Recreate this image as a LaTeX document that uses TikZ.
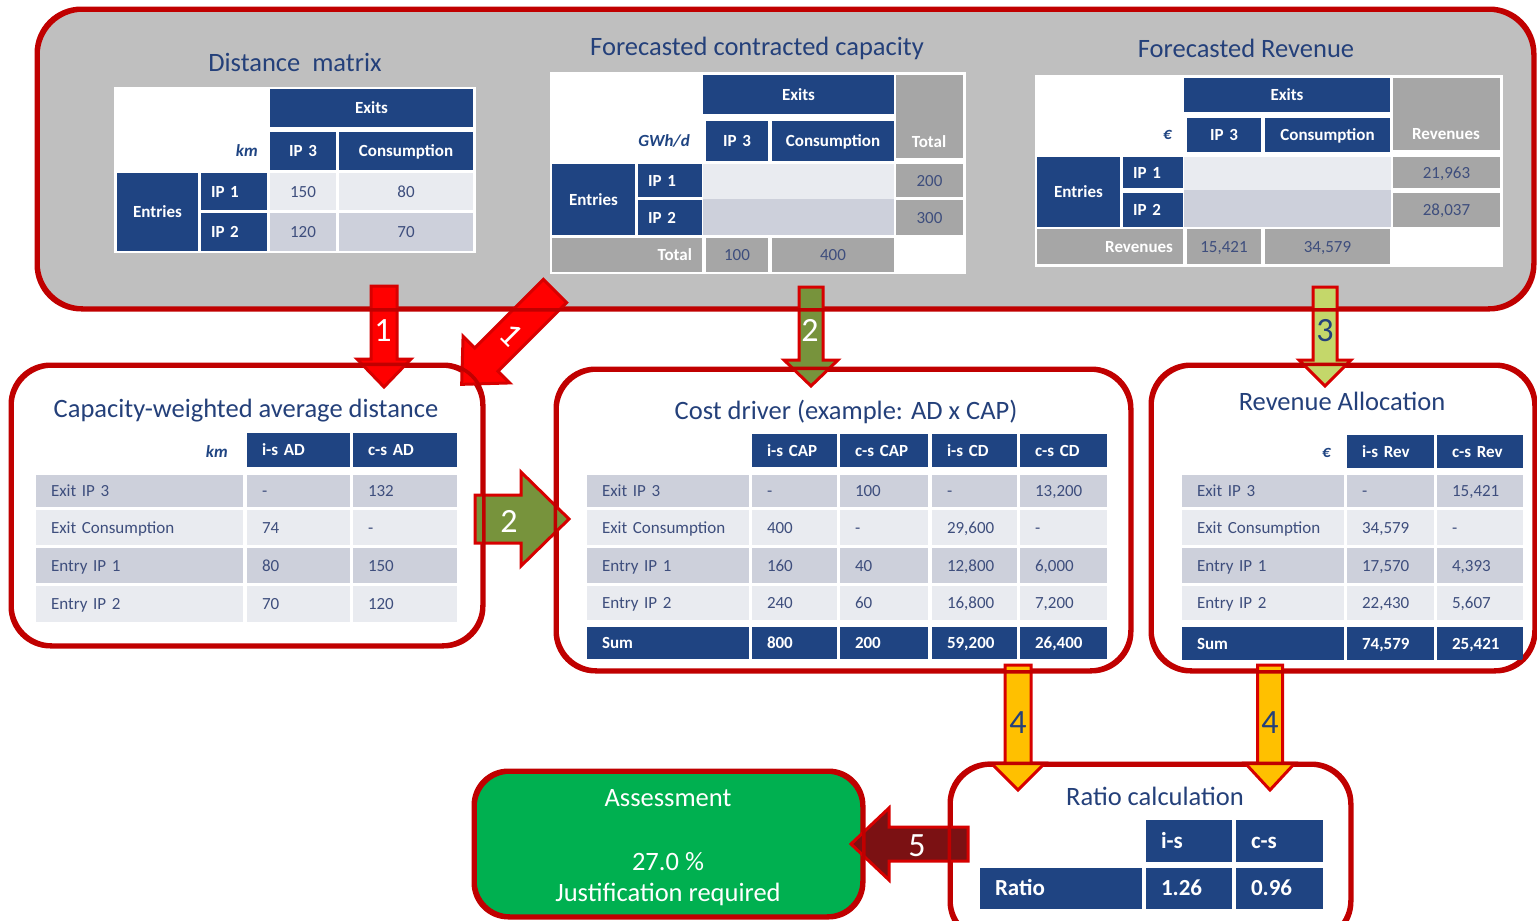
\documentclass[tikz,border=0pt]{standalone}
\usepackage{fontspec}
\setmainfont{Carlito}
\usetikzlibrary{calc}
\definecolor{hdrblue}{RGB}{31,68,130}
\definecolor{titleblue}{RGB}{36,64,122}
\definecolor{valtxt}{RGB}{62,78,125}
\definecolor{rowlight}{RGB}{233,235,240}
\definecolor{rowdark}{RGB}{205,208,219}
\definecolor{cellgrey}{RGB}{166,166,166}
\definecolor{bggrey}{RGB}{191,191,191}
\definecolor{boxred}{RGB}{192,0,0}
\definecolor{arrred}{RGB}{255,0,0}
\definecolor{arredge}{RGB}{215,0,0}
\definecolor{olivegreen}{RGB}{119,147,60}
\definecolor{lightgreen}{RGB}{196,215,106}
\definecolor{amber}{RGB}{255,192,0}
\definecolor{darkred}{RGB}{123,17,19}
\definecolor{assessgreen}{RGB}{0,176,80}
\tikzset{
 panel/.style={draw=boxred, line width=3.5pt, fill=white, rounded corners=40pt, inner sep=0pt},
 title/.style={font=\fontsize{26.5}{30}\selectfont, text=titleblue, inner sep=0pt, text height=17pt, text depth=0pt},
 cellbase/.style={inner ysep=0pt, text height=11pt, text depth=0pt},
 hdr/.style={cellbase, fill=hdrblue, text=white, font=\fontsize{17}{20}\selectfont\bfseries},
 hdrL/.style={cellbase, text height=14.6pt, fill=hdrblue, text=white, font=\fontsize{23}{26}\selectfont\bfseries},
 val/.style={cellbase, text=valtxt, font=\fontsize{17}{20}\selectfont},
 lt/.style={val, fill=rowlight},
 dk/.style={val, fill=rowdark},
 gry/.style={val, fill=cellgrey},
 gryh/.style={hdr, fill=cellgrey},
 blank/.style={cellbase, fill=white},
 unitlbl/.style={font=\fontsize{17}{20}\selectfont\bfseries\itshape, text=hdrblue, inner sep=0pt, text height=11pt, text depth=0pt},
 hdrtxt/.style={font=\fontsize{17}{20}\selectfont\bfseries, text=white, inner sep=0pt, text height=11pt, text depth=0pt},
 blk/.style={line width=3pt, draw=arredge, line join=miter},
 num/.style={font=\fontsize{34}{36}\selectfont, inner sep=0pt, text height=22pt, text depth=0pt},
 asstxt/.style={font=\fontsize{26.5}{30}\selectfont, text=white, inner sep=0pt, text height=17pt, text depth=0pt},
 border/.style={draw=boxred, line width=3.5pt, rounded corners=40pt},
}
\newcommand{\cellpad}{14}
% name, x1, y1, x2, y2, style, align, text
\newcommand{\tc}[8]{%
 \pgfmathsetmacro{\tcW}{#4-#2}%
 \pgfmathsetmacro{\tcH}{#5-#3}%
 \pgfmathsetmacro{\tcT}{#4-#2-2*\cellpad}%
 \node[#6, minimum width=\tcW pt, minimum height=\tcH pt, text width=\tcT pt, align=#7, inner xsep=\cellpad pt] (#1) at ({(#2+#4)/2},{(#3+#5)/2}) {#8};}
% style, start coordinate, angle, length, half shaft, half head, head length
\newcommand{\blockarrow}[7]{%
 \begin{scope}[shift={(#2)}, rotate=#3]
 \draw[#1] (0,#5) -- ({#4-#7},#5) -- ({#4-#7},#6) -- (#4,0) -- ({#4-#7},-#6) -- ({#4-#7},-#5) -- (0,-#5) -- cycle;
 \end{scope}}
\begin{document}
\begin{tikzpicture}[x=1pt,y=-1pt]
\clip (0,0) rectangle (1537,921);
\fill[white] (0,0) rectangle (1537,921);

% ===== top panel =====
\node[panel, fill=bggrey, rounded corners=45pt, minimum width=1495pt, minimum height=298pt] (top) at (785.5,159) {};
\node[title] (tDM) at (295,63) {Distance\ \ matrix};
\node[title] (tFCC) at (757,47) {Forecasted contracted capacity};
\node[title] (tFR) at (1246,49) {Forecasted Revenue};

% Distance matrix
\renewcommand{\cellpad}{10}
\tc{dmBg}{114}{87}{476}{253}{blank}{center}{}
\tc{dmExits}{270}{89}{473}{127}{hdr}{center}{Exits}
\tc{dmIPt}{270}{132}{336}{170}{hdr}{center}{IP 3}
\tc{dmCons}{339}{132}{473}{170}{hdr}{center}{Consumption}
\node[unitlbl, anchor=east] (dmKm) at (258,151) {km};
\tc{dmEntries}{117}{173}{198}{251}{hdr}{center}{Entries}
\tc{dmIPa}{201}{173}{267}{210}{hdr}{left}{IP 1}
\tc{dmIPb}{201}{213}{267}{251}{hdr}{left}{IP 2}
\tc{dmA}{270}{173}{336}{210}{lt}{center}{150}
\tc{dmB}{339}{173}{473}{210}{lt}{center}{80}
\tc{dmC}{270}{213}{336}{251}{dk}{center}{120}
\tc{dmD}{339}{213}{473}{251}{dk}{center}{70}

% Forecasted contracted capacity
\tc{fcBg}{550}{72}{966}{274}{blank}{center}{}
\tc{fcExits}{703}{75}{894}{114}{hdr}{center}{Exits}
\tc{fcTotH}{896}{75}{963}{158}{gryh}{center}{}
\node[hdrtxt] (fcTotHt) at (929,142) {Total};
\tc{fcIPt}{706}{121}{768}{161}{hdr}{center}{IP 3}
\tc{fcCons}{772}{121}{894}{161}{hdr}{center}{Consumption}
\node[unitlbl, anchor=east] (fcUnit) at (690,141) {GWh/d};
\tc{fcEntries}{552}{164}{635}{235}{hdr}{center}{Entries}
\tc{fcIPa}{638}{164}{702}{197}{hdr}{left}{IP 1}
\tc{fcIPb}{638}{200}{702}{235}{hdr}{left}{IP 2}
\tc{fcRa}{703}{164}{894}{199}{lt}{center}{}
\tc{fcRb}{703}{199}{894}{235}{dk}{center}{}
\tc{fcTa}{896}{164}{963}{197}{gry}{center}{200}
\tc{fcTb}{896}{200}{963}{235}{gry}{center}{300}
\tc{fcTotR}{552}{238}{702}{272}{gryh}{right}{Total}
\tc{fcTi}{706}{238}{768}{272}{gry}{center}{100}
\tc{fcTc}{772}{238}{894}{272}{gry}{center}{400}

% Forecasted revenue
\tc{frBg}{1035}{75}{1503}{267}{blank}{center}{}
\tc{frExits}{1184}{78}{1390}{112}{hdr}{center}{Exits}
\tc{frRevH}{1393}{78}{1500}{150}{gryh}{center}{}
\node[hdrtxt] (frRevHt) at (1446,134) {Revenues};
\tc{frIPt}{1187}{118}{1261}{152}{hdr}{center}{IP 3}
\tc{frCons}{1265}{118}{1390}{152}{hdr}{center}{Consumption}
\node[unitlbl, anchor=east] (frUnit) at (1172,134) {€};
\tc{frEntries}{1037}{157}{1120}{227}{hdr}{center}{Entries}
\tc{frIPa}{1123}{157}{1183}{188}{hdr}{left}{IP 1}
\tc{frIPb}{1123}{193}{1183}{227}{hdr}{left}{IP 2}
\tc{frRa}{1184}{157}{1391}{190}{lt}{center}{}
\tc{frRb}{1184}{190}{1391}{227}{dk}{center}{}
\tc{frTa}{1393}{157}{1500}{188}{gry}{center}{21,963}
\tc{frTb}{1393}{193}{1500}{227}{gry}{center}{28,037}
\tc{frRevR}{1037}{229}{1183}{264}{gryh}{right}{Revenues}
\tc{frTi}{1187}{229}{1261}{264}{gry}{center}{15,421}
\tc{frTc}{1265}{229}{1390}{264}{gry}{center}{34,579}

% ===== lower panels =====
\node[panel, minimum width=470pt, minimum height=279pt] (pCW) at (247,505.5) {};
\node[panel, minimum width=573pt, minimum height=300pt] (pCD) at (843.5,520) {};
\node[panel, minimum width=382pt, minimum height=304pt] (pRA) at (1343,518) {};
\node[panel, minimum width=399pt, minimum height=175pt] (pRC) at (1150.5,852.5) {};
\node[panel, fill=assessgreen, rounded corners=35pt, minimum width=387pt, minimum height=144pt] (pAS) at (668.5,844) {};

\node[title] (tCW) at (246,409) {Capacity-weighted average distance};
\node[title] (tCD) at (846,411) {Cost driver (example: AD x CAP)};
\node[title] (tRA) at (1342,402) {Revenue Allocation};
\node[title] (tRC) at (1155,797) {Ratio calculation};

\node[asstxt] (asA) at (668,798) {Assessment};
\node[asstxt] (asB) at (668,862) {27.0 \%};
\node[asstxt] (asC) at (668,893) {Justification required};

% Capacity-weighted average distance table
\renewcommand{\cellpad}{15}
\node[unitlbl, anchor=east] (cwKm) at (228,452) {km};
\tc{cwH1}{247}{433}{350}{467}{hdr}{left}{i-s AD}
\tc{cwH2}{353}{433}{457}{467}{hdr}{left}{c-s AD}
\tc{cwL1}{36}{475}{243}{507}{dk}{left}{Exit IP 3}
\tc{cwA1}{247}{475}{350}{507}{dk}{left}{-}
\tc{cwB1}{353}{475}{457}{507}{dk}{left}{132}
\tc{cwL2}{36}{510}{243}{545}{lt}{left}{Exit Consumption}
\tc{cwA2}{247}{510}{350}{545}{lt}{left}{74}
\tc{cwB2}{353}{510}{457}{545}{lt}{left}{-}
\tc{cwL3}{36}{548}{243}{583}{dk}{left}{Entry IP 1}
\tc{cwA3}{247}{548}{350}{583}{dk}{left}{80}
\tc{cwB3}{353}{548}{457}{583}{dk}{left}{150}
\tc{cwL4}{36}{586}{243}{622}{lt}{left}{Entry IP 2}
\tc{cwA4}{247}{586}{350}{622}{lt}{left}{70}
\tc{cwB4}{353}{586}{457}{622}{lt}{left}{120}

% Cost driver table
\tc{cdH1}{752}{434}{837}{467}{hdr}{left}{i-s CAP}
\tc{cdH2}{840}{434}{928}{467}{hdr}{left}{c-s CAP}
\tc{cdH3}{932}{434}{1017}{467}{hdr}{left}{i-s CD}
\tc{cdH4}{1020}{434}{1107}{467}{hdr}{left}{c-s CD}
\tc{cdL1}{587}{475}{749}{507}{dk}{left}{Exit IP 3}
\tc{cdA1}{752}{475}{837}{507}{dk}{left}{-}
\tc{cdB1}{840}{475}{928}{507}{dk}{left}{100}
\tc{cdC1}{932}{475}{1017}{507}{dk}{left}{-}
\tc{cdD1}{1020}{475}{1107}{507}{dk}{left}{13,200}
\tc{cdL2}{587}{510}{749}{545}{lt}{left}{Exit Consumption}
\tc{cdA2}{752}{510}{837}{545}{lt}{left}{400}
\tc{cdB2}{840}{510}{928}{545}{lt}{left}{-}
\tc{cdC2}{932}{510}{1017}{545}{lt}{left}{29,600}
\tc{cdD2}{1020}{510}{1107}{545}{lt}{left}{-}
\tc{cdL3}{587}{548}{749}{583}{dk}{left}{Entry IP 1}
\tc{cdA3}{752}{548}{837}{583}{dk}{left}{160}
\tc{cdB3}{840}{548}{928}{583}{dk}{left}{40}
\tc{cdC3}{932}{548}{1017}{583}{dk}{left}{12,800}
\tc{cdD3}{1020}{548}{1107}{583}{dk}{left}{6,000}
\tc{cdL4}{587}{586}{749}{620}{lt}{left}{Entry IP 2}
\tc{cdA4}{752}{586}{837}{620}{lt}{left}{240}
\tc{cdB4}{840}{586}{928}{620}{lt}{left}{60}
\tc{cdC4}{932}{586}{1017}{620}{lt}{left}{16,800}
\tc{cdD4}{1020}{586}{1107}{620}{lt}{left}{7,200}
\tc{cdL5}{587}{627}{749}{659}{hdr}{left}{Sum}
\tc{cdA5}{752}{627}{837}{659}{hdr}{left}{800}
\tc{cdB5}{840}{627}{928}{659}{hdr}{left}{200}
\tc{cdC5}{932}{627}{1017}{659}{hdr}{left}{59,200}
\tc{cdD5}{1020}{627}{1107}{659}{hdr}{left}{26,400}

% Revenue allocation table
\node[unitlbl, anchor=east] (raUnit) at (1331,452) {€};
\tc{raH1}{1347}{435}{1434}{468}{hdr}{left}{i-s Rev}
\tc{raH2}{1437}{435}{1523}{468}{hdr}{left}{c-s Rev}
\tc{raL1}{1182}{475}{1344}{507}{dk}{left}{Exit IP 3}
\tc{raA1}{1347}{475}{1434}{507}{dk}{left}{-}
\tc{raB1}{1437}{475}{1523}{507}{dk}{left}{15,421}
\tc{raL2}{1182}{510}{1344}{545}{lt}{left}{Exit Consumption}
\tc{raA2}{1347}{510}{1434}{545}{lt}{left}{34,579}
\tc{raB2}{1437}{510}{1523}{545}{lt}{left}{-}
\tc{raL3}{1182}{548}{1344}{583}{dk}{left}{Entry IP 1}
\tc{raA3}{1347}{548}{1434}{583}{dk}{left}{17,570}
\tc{raB3}{1437}{548}{1523}{583}{dk}{left}{4,393}
\tc{raL4}{1182}{586}{1344}{620}{lt}{left}{Entry IP 2}
\tc{raA4}{1347}{586}{1434}{620}{lt}{left}{22,430}
\tc{raB4}{1437}{586}{1523}{620}{lt}{left}{5,607}
\tc{raL5}{1182}{627}{1344}{660}{hdr}{left}{Sum}
\tc{raA5}{1347}{627}{1434}{660}{hdr}{left}{74,579}
\tc{raB5}{1437}{627}{1523}{660}{hdr}{left}{25,421}

% Ratio table
\tc{rcH1}{1146}{820}{1232}{862}{hdrL}{left}{i-s}
\tc{rcH2}{1236}{820}{1323}{862}{hdrL}{left}{c-s}
\tc{rcL}{980}{868}{1142}{909}{hdrL}{left}{Ratio}
\tc{rcA}{1146}{868}{1232}{909}{hdrL}{left}{1.26}
\tc{rcB}{1236}{868}{1323}{909}{hdrL}{left}{0.96}

% ===== block arrows =====
\coordinate (a1s) at (384,286);
\blockarrow{blk, fill=arrred}{a1s}{-90}{101}{13}{27}{28}
\coordinate (a1d) at (555,291);
\blockarrow{blk, fill=arrred}{a1d}{-135}{132}{16.5}{33}{35}
\coordinate (a2s) at (811,287);
\blockarrow{blk, fill=olivegreen}{a2s}{-90}{99}{12}{27}{26}
\coordinate (a2h) at (475,519);
\blockarrow{blk, fill=olivegreen}{a2h}{0}{94}{24}{47}{48}
\coordinate (a3s) at (1325,287);
\blockarrow{blk, fill=lightgreen}{a3s}{-90}{99}{12}{26}{26}
\coordinate (a4a) at (1018,665);
\blockarrow{blk, fill=amber}{a4a}{-90}{125}{13}{27}{27}
\coordinate (a4b) at (1270,665);
\blockarrow{blk, fill=amber}{a4b}{-90}{125}{12.5}{25}{27}
\coordinate (a5) at (968,844);
\blockarrow{blk, fill=darkred}{a5}{180}{117}{17}{36}{38}

% panel borders on top
\draw[border, rounded corners=45pt] (top.south west) rectangle (top.north east);
\draw[border] (pCW.south west) rectangle (pCW.north east);
\draw[border] (pCD.south west) rectangle (pCD.north east);
\draw[border] (pRA.south west) rectangle (pRA.north east);
\draw[border] (pRC.south west) rectangle (pRC.north east);
\draw[border, rounded corners=35pt] (pAS.south west) rectangle (pAS.north east);

% arrow numbers
\node[num, text=white] (n1) at (383,330) {1};
\node[num, text=white, rotate=-45] (n1d) at (511,335) {1};
\node[num, text=white] (n2) at (810,330) {2};
\node[num, text=white] (n2h) at (509,521) {2};
\node[num, text=titleblue] (n3) at (1325,330) {3};
\node[num, text=titleblue] (n4a) at (1018,722) {4};
\node[num, text=titleblue] (n4b) at (1270,722) {4};
\node[num, text=white] (n5) at (917,845) {5};
\end{tikzpicture}
\end{document}
